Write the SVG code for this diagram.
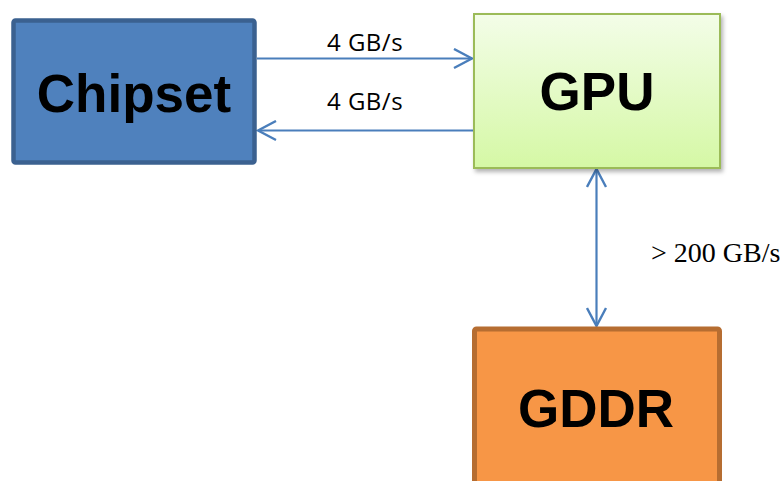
<svg xmlns="http://www.w3.org/2000/svg" width="784" height="481" viewBox="0 0 784 481">
  <style>
    .node-label { font-family: "Liberation Sans", Arial, sans-serif; font-weight: bold; font-size: 53px; fill: #000; text-anchor: middle; }
    .edge-label { font-family: "Open Sans", "Liberation Sans", sans-serif; font-size: 24px; fill: #000; text-anchor: middle; letter-spacing: 0.5px; }
    .serif-label { font-family: "Liberation Serif", "Times New Roman", serif; font-size: 28px; fill: #000; }
    .conn { stroke: #4a7ebb; stroke-width: 2.2; fill: none; }
  </style>
  <defs>
    <linearGradient id="gpuGrad" x1="0" y1="0" x2="0" y2="1">
      <stop offset="0" stop-color="#f3fde8"/>
      <stop offset="1" stop-color="#d5f8a5"/>
    </linearGradient>
    <filter id="shadow" x="-10%" y="-10%" width="130%" height="130%">
      <feDropShadow dx="2" dy="3" stdDeviation="2" flood-color="#000" flood-opacity="0.3"/>
    </filter>
    <marker id="arrow" viewBox="0 0 22 22" refX="20" refY="11" markerWidth="22" markerHeight="22" markerUnits="userSpaceOnUse" orient="auto-start-reverse">
      <path d="M2,1.5 L20,11 L2,20.5" fill="none" stroke="#4a7ebb" stroke-width="2.4" stroke-linejoin="miter"/>
    </marker>
  </defs>

  <g id="connectors">
    <path class="conn" d="M257,58.5 L472,58.5" marker-end="url(#arrow)"/>
    <path class="conn" d="M473,130.5 L258,130.5" marker-end="url(#arrow)"/>
    <path class="conn" d="M596.5,169 L596.5,326" marker-start="url(#arrow)" marker-end="url(#arrow)"/>
    <text class="edge-label" x="365" y="51">4 GB/s</text>
    <text class="edge-label" x="365" y="110">4 GB/s</text>
    <text class="serif-label" x="651" y="262">&gt; 200 GB/s</text>
  </g>

  <g id="chipset">
    <rect x="13.5" y="20.5" width="241" height="142" rx="2" fill="#4f81bd" stroke="#3b6190" stroke-width="4.5"/>
    <text class="node-label" x="134" y="112">Chipset</text>
  </g>

  <g id="gpu">
    <rect x="474" y="14" width="246" height="154" fill="url(#gpuGrad)" stroke="#9bbb59" stroke-width="2" filter="url(#shadow)"/>
    <text class="node-label" x="597" y="110">GPU</text>
  </g>

  <g id="gddr">
    <rect x="474.5" y="329" width="245" height="170" rx="2" fill="#f79646" stroke="#b66d31" stroke-width="5"/>
    <text class="node-label" x="596" y="427">GDDR</text>
  </g>
</svg>
